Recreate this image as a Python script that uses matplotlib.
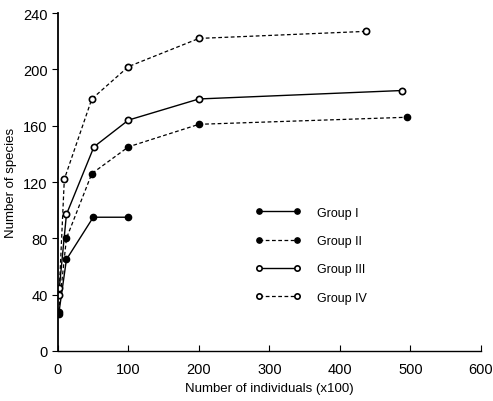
import matplotlib.pyplot as plt

# Dane
x_g1 = [1, 12, 50, 100]
y_g1 = [26, 65, 95, 95]

x_g2 = [1, 12, 48, 100, 200, 495]
y_g2 = [28, 80, 126, 145, 161, 166]

x_g3 = [1, 12, 51, 100, 200, 488]
y_g3 = [40, 97, 145, 164, 179, 185]

x_g4 = [2, 9, 48, 100, 200, 437]
y_g4 = [45, 122, 179, 202, 222, 227]

labels = ["Group I", "Group II", "Group III", "Group IV"]

plt.rcParams["font.family"] = ["Liberation Sans", "DejaVu Sans"]

fig = plt.figure(figsize=(4.93, 4.02), dpi=100)
ax = fig.add_axes([0.1176, 0.1244, 0.858, 0.8406])

ax.plot(x_g1, y_g1, "-", color="black", lw=1.0, marker="o", ms=4.5,
        mfc="black", mec="black", label=labels[0])
ax.plot(x_g2, y_g2, "--", color="black", lw=0.9, dashes=(3, 2), marker="o", ms=4.5,
        mfc="black", mec="black", label=labels[1])
ax.plot(x_g3, y_g3, "-", color="black", lw=1.0, marker="o", ms=4.5,
        mfc="white", mec="black", mew=1.2, label=labels[2])
ax.plot(x_g4, y_g4, "--", color="black", lw=0.9, dashes=(3, 2), marker="o", ms=4.5,
        mfc="white", mec="black", mew=1.2, label=labels[3])

ax.set_xlim(0, 600)
ax.set_ylim(0, 240)
ax.set_xticks(range(0, 601, 100))
ax.set_yticks(range(0, 241, 40))

ax.spines["top"].set_visible(False)
ax.spines["right"].set_visible(False)
ax.spines["left"].set_linewidth(1.3)
ax.spines["bottom"].set_linewidth(1.0)
ax.tick_params(axis="y", direction="out", length=4, labelsize=10.5)
ax.tick_params(axis="x", direction="in", length=4, labelsize=10.5, pad=8)

ax.set_xlabel("Number of individuals (x100)", fontsize=9.5, labelpad=4)
ax.set_ylabel("Number of species", fontsize=9.5, labelpad=4)

ax.legend(loc="upper left", bbox_to_anchor=(0.44, 0.46), frameon=False,
          handlelength=3.6, fontsize=9, labelspacing=1.3, handletextpad=1.3,
          markerscale=0.85, numpoints=2)

fig.savefig("out.png", dpi=100)
